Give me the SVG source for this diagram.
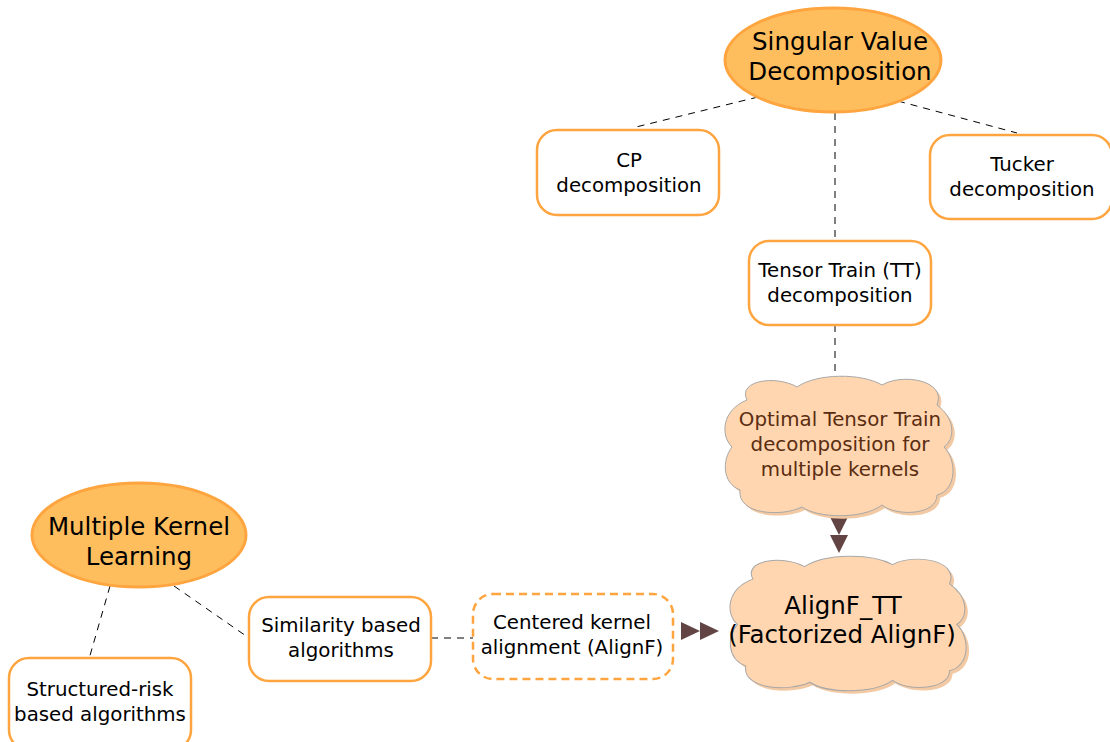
<svg xmlns="http://www.w3.org/2000/svg" width="1110" height="742" viewBox="0 0 1110 742">
<defs>
<style>
text{font-family:"DejaVu Sans","Liberation Sans",sans-serif;text-anchor:middle;fill:#000}
.t{font-size:19.8px}
.big{font-size:24.5px}
.ell{fill:#FFBE5E;stroke:#FFA540;stroke-width:3}
.box{fill:#fff;stroke:#FFA540;stroke-width:2.5}
.dbox{fill:#fff;stroke:#FFA540;stroke-width:2.5;stroke-dasharray:8 5}
.con{stroke:#000;stroke-width:1;stroke-dasharray:7 6;fill:none}
.cloud{fill:#FFD6B0;stroke:#A8A8A8;stroke-width:1}
.shadow{fill:#F2C9A2}
.arr{fill:#634444}
</style>
<path id="cl" d="M 25,25 C 15,5 55,0 75,12 C 95,-2 140,-2 160,10 C 180,-2 225,5 215,30 C 235,45 232,65 222,72 C 235,85 235,115 215,120 C 215,140 175,142 160,130 C 140,145 95,143 80,132 C 60,142 15,140 18,115 C 0,108 0,85 10,72 C -2,60 0,35 25,25 Z"/>
</defs>
<rect width="1110" height="742" fill="#fff"/>
<g id="connectors">
<line class="con" x1="758" y1="97" x2="632" y2="128"/>
<line class="con" x1="898" y1="101" x2="1017" y2="133"/>
<line class="con" x1="835" y1="113" x2="835" y2="240"/>
<line class="con" x1="835" y1="325" x2="835" y2="378"/>
<line class="con" x1="110" y1="586" x2="89" y2="659"/>
<line class="con" x1="174" y1="586" x2="249" y2="638"/>
<line class="con" x1="431" y1="638" x2="473" y2="638"/>
<polygon class="arr" points="830,517 848,517 839,535"/>
<polygon class="arr" points="830,535 848,535 839,553"/>
<polygon class="arr" points="681,622 681,640 700,631"/>
<polygon class="arr" points="700,622 700,640 719,631"/>
</g>
<g id="svd">
<ellipse class="ell" cx="833" cy="60" rx="108" ry="52"/>
<text class="big" x="840" y="50">Singular Value</text>
<text class="big" x="840" y="80">Decomposition</text>
</g>
<g id="cp">
<rect class="box" x="537" y="130" width="182" height="85" rx="20"/>
<text class="t" x="629" y="167">CP</text>
<text class="t" x="629" y="192">decomposition</text>
</g>
<g id="tucker">
<rect class="box" x="930" y="135" width="182" height="84" rx="20"/>
<text class="t" x="1022" y="171">Tucker</text>
<text class="t" x="1022" y="196">decomposition</text>
</g>
<g id="tt">
<rect class="box" x="749" y="241" width="182" height="84" rx="20"/>
<text class="t" x="840" y="277">Tensor Train (TT)</text>
<text class="t" x="840" y="302">decomposition</text>
</g>
<g id="optimal">
<use href="#cl" class="shadow" transform="translate(725,378)"/>
<use href="#cl" class="cloud" transform="translate(722,375)"/>
<text class="t" x="840" y="426" style="fill:#5A2C10">Optimal Tensor Train</text>
<text class="t" x="840" y="451" style="fill:#5A2C10">decomposition for</text>
<text class="t" x="840" y="476" style="fill:#5A2C10">multiple kernels</text>
</g>
<g id="alignftt">
<use href="#cl" class="shadow" transform="translate(730,558) scale(1.035,0.964)"/>
<use href="#cl" class="cloud" transform="translate(727,555) scale(1.035,0.964)"/>
<text class="big" x="843" y="614">AlignF_TT</text>
<text class="big" x="842" y="643">(Factorized AlignF)</text>
</g>
<g id="centered">
<rect class="dbox" x="473" y="594" width="200" height="85" rx="20"/>
<text class="t" x="572" y="629">Centered kernel</text>
<text class="t" x="572" y="654">alignment (AlignF)</text>
</g>
<g id="similarity">
<rect class="box" x="249" y="597" width="182" height="84" rx="20"/>
<text class="t" x="341" y="632">Similarity based</text>
<text class="t" x="341" y="657">algorithms</text>
</g>
<g id="mkl">
<ellipse class="ell" cx="139" cy="535" rx="107" ry="52"/>
<text class="big" x="139" y="535">Multiple Kernel</text>
<text class="big" x="139" y="565">Learning</text>
</g>
<g id="structured">
<rect class="box" x="9" y="658" width="182" height="92" rx="20"/>
<text class="t" x="100" y="696">Structured-risk</text>
<text class="t" x="100" y="721">based algorithms</text>
</g>
</svg>
